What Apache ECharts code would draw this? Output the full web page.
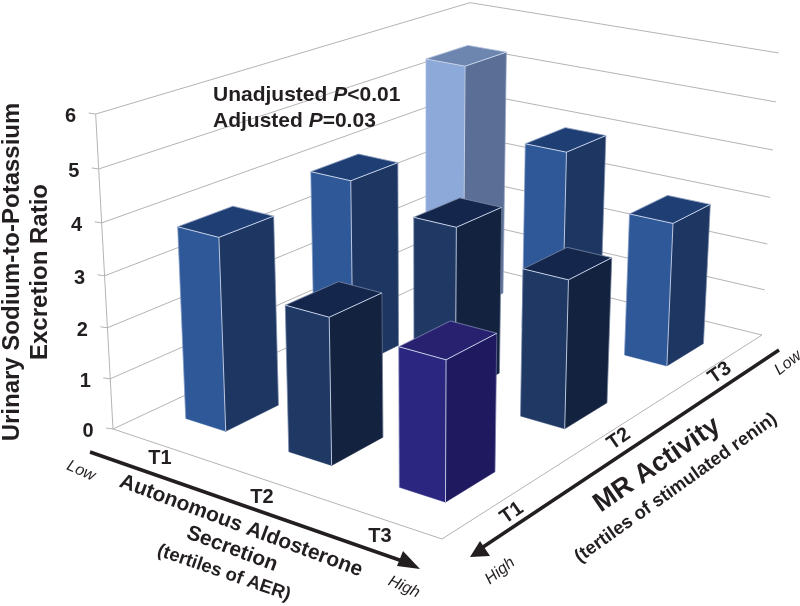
<!DOCTYPE html>
<html>
<head>
<meta charset="utf-8">
<style>html,body{margin:0;padding:0;background:#fff}#c{width:800px;height:606px}</style>
<script src="https://cdn.jsdelivr.net/npm/echarts@6/dist/echarts.min.js"></script>
</head>
<body>
<div id="c"></div>
<script>
// ---- data ----
const aerTertiles = ['T1', 'T2', 'T3'];
const mrTertiles = ['T1', 'T2', 'T3'];
const yTicks = [0, 1, 2, 3, 4, 5, 6];
const ratioMrT1 = [3.77, 2.82, 2.63];
const ratioMrT2 = [3.88, 3.44, 2.94];
const ratioMrT3 = [5.38, 4.0, 3.0];

// ---- styling / layout ----
const FONT = '"Liberation Sans", Arial, sans-serif';
const tones = {
  blue:   {front: '#2f5899', side: '#1e3662', top: '#1f3f74'},
  dark:   {front: '#1f3864', side: '#13233f', top: '#14264c'},
  light:  {front: '#8dA9d9', side: '#5b6f96', top: '#6d86b0'},
  purple: {front: '#2b2680', side: '#1f1a60', top: '#272170'}
};
const toneGrid = [
  ['blue', 'dark', 'purple'],
  ['blue', 'dark', 'dark'],
  ['light', 'blue', 'blue']
];
const floor = [[113, 429], [442, 539], [762, 335], [468, 263]];
const verticalColumn = [-22.4, -321, -0.053];
const HALF = 0.066;

// homography of the unit floor square, plus a vertical column
function buildProjection() {
  const [[x0, y0], [x1, y1], [x2, y2], [x3, y3]] = floor;
  const dx1 = x1 - x2, dx2 = x3 - x2, sx = x0 - x1 + x2 - x3;
  const dy1 = y1 - y2, dy2 = y3 - y2, sy = y0 - y1 + y2 - y3;
  const det = dx1 * dy2 - dx2 * dy1;
  const g = (sx * dy2 - dx2 * sy) / det, h = (dx1 * sy - sx * dy1) / det;
  const a = x1 - x0 + g * x1, b = x3 - x0 + h * x3, c = x0;
  const d = y1 - y0 + g * y1, e = y3 - y0 + h * y3, f = y0;
  const base = (u, v) => [a * u + b * v + c, d * u + e * v + f, g * u + h * v + 1];
  const [vx, vy, vw] = verticalColumn;
  return (u, v, t) => {
    const B = base(u, v);
    const w = B[2] + t * vw;
    return [(B[0] + t * vx) / w, (B[1] + t * vy) / w];
  };
}
const project = buildProjection();

// cells drawn from far to near
const cells = [];
[ratioMrT1, ratioMrT2, ratioMrT3].forEach((row, m) => {
  row.forEach((val, a) => cells.push([a + 0.5, val, m + 0.5, a, m]));
});
cells.sort((p, q) => (p[3] - p[4]) - (q[3] - q[4]));

function toScene(api, xv, yv) {
  const p = api.coord([xv, yv]);
  return [p[0] / api.getWidth(), 1 - p[1] / api.getHeight()];
}

function renderBar(params, api) {
  const xv = api.value(0), val = api.value(1), mv = api.value(2);
  const tone = tones[toneGrid[api.value(4)][api.value(3)]];
  const [u] = toScene(api, xv, 0);
  const [, t] = toScene(api, xv, val);
  const v = mv / mrTertiles.length;
  const u0 = u - HALF, u1 = u + HALF, v0 = v - HALF, v1 = v + HALF;
  const bL = project(u0, v0, 0), bF = project(u1, v0, 0), bR = project(u1, v1, 0);
  const tL = project(u0, v0, t), tF = project(u1, v0, t), tR = project(u1, v1, t), tB = project(u0, v1, t);
  const poly = (pts, fill) => ({type: 'polygon', shape: {points: pts}, style: {fill: fill, stroke: fill, lineWidth: 0.5}});
  const edge = (pts, op) => ({type: 'polyline', shape: {points: pts}, style: {fill: null, stroke: '#c9d5ec', lineWidth: 1, opacity: op}});
  return {
    type: 'group',
    children: [
      poly([bL, bF, tF, tL], tone.front),
      poly([bF, bR, tR, tF], tone.side),
      poly([tL, tF, tR, tB], tone.top),
      edge([tL, tF, tR], 1),
      edge([tF, bF], 0.9),
      edge([tL, tB, tR], 0.45),
      edge([tR, bR], 0.35),
      edge([tL, bL], 0.35)
    ]
  };
}

function renderWall(params, api) {
  const tick = api.value(0);
  const [, t] = toScene(api, 0, tick);
  const L = project(0, 0, t), B = project(0, 1, t), R = project(1, 1, t);
  const lineStyle = {fill: null, stroke: '#b4b4b4', lineWidth: 1};
  const children = [
    {type: 'polyline', shape: {points: [L, B, R]}, style: lineStyle},
    {type: 'line', shape: {x1: L[0] - 7, y1: L[1] - 1, x2: L[0], y2: L[1]}, style: lineStyle},
    {type: 'text', x: L[0] - 25, y: L[1] + 2.5, style: {text: String(tick), font: 'bold 20px ' + FONT, fill: '#231f20', align: 'center', verticalAlign: 'middle'}}
  ];
  if (tick === 0) {
    const F = project(1, 0, 0), T = project(0, 0, 1);
    children.push({type: 'polyline', shape: {points: [L, F, R]}, style: lineStyle});
    children.push({type: 'line', shape: {x1: L[0], y1: L[1], x2: T[0], y2: T[1]}, style: lineStyle});
  }
  return {type: 'group', children: children};
}

const txt = (text, x, y, size, rot, extra) => ({
  type: 'text', x: x, y: y, rotation: rot * Math.PI / 180, z: 20,
  style: Object.assign({text: text, font: 'bold ' + size + 'px ' + FONT, fill: '#231f20', align: 'center', verticalAlign: 'middle'}, extra || {})
});
const italic = (text, x, y, rot) => txt(text, x, y, 16, rot, {font: 'italic 16px ' + FONT});
const aerLabelPos = [[160, 458], [262, 497], [380, 536]];
const mrLabelPos = [[512, 513], [619, 439], [720, 373]];

const graphics = [
  txt('Urinary Sodium-to-Potassium', 12, 272, 24, 90),
  txt('Excretion Ratio', 40, 272, 24, 90),
  {type: 'text', x: 213, y: 108, z: 20, style: {
    text: 'Unadjusted {i|P}<0.01\nAdjusted {i|P}=0.03', font: 'bold 21px ' + FONT, fill: '#231f20',
    align: 'left', verticalAlign: 'middle', lineHeight: 26,
    rich: {i: {font: 'italic bold 21px ' + FONT, fill: '#231f20'}}
  }},
  {type: 'line', z: 15, shape: {x1: 90, y1: 452, x2: 408, y2: 563}, style: {stroke: '#231f20', lineWidth: 3.5}},
  {type: 'polygon', z: 15, shape: {points: [[420, 569], [397, 566], [403, 551]]}, style: {fill: '#231f20'}},
  {type: 'line', z: 15, shape: {x1: 779, y1: 350, x2: 483, y2: 547}, style: {stroke: '#231f20', lineWidth: 3.5}},
  {type: 'polygon', z: 15, shape: {points: [[470, 557], [480, 541], [490, 556]]}, style: {fill: '#231f20'}},
  italic('Low', 81, 471, -24),
  italic('High', 404, 587, -24),
  italic('Low', 788, 363, 38),
  italic('High', 500, 571, 38),
  txt('Autonomous Aldosterone', 241, 526, 21, -20.5),
  txt('Secretion', 232, 549, 21, -20.5),
  txt('(tertiles of AER)', 224, 573, 18.5, -19),
  txt('MR Activity', 657, 465, 27, 34.5),
  txt('(tertiles of stimulated renin)', 676, 488, 18.5, 35.5)
];
aerTertiles.forEach((s, i) => graphics.push(txt(s, aerLabelPos[i][0], aerLabelPos[i][1], 20, 0)));
mrTertiles.forEach((s, i) => graphics.push(txt(s, mrLabelPos[i][0], mrLabelPos[i][1], 20, 35)));

const chart = echarts.init(document.getElementById('c'), null, {renderer: 'canvas'});
chart.setOption({
  animation: false,
  backgroundColor: '#fff',
  grid: {left: 0, top: 0, width: '100%', height: '100%'},
  xAxis: {type: 'value', min: 0, max: aerTertiles.length, show: false},
  yAxis: {type: 'value', min: 0, max: 6, show: false},
  graphic: graphics,
  series: [
    {type: 'custom', name: 'walls', coordinateSystem: 'cartesian2d', z: 1, clip: false, silent: true,
     renderItem: renderWall, data: yTicks.map(t => [t]), encode: {x: -1, y: 0}},
    {type: 'custom', name: 'ratio', coordinateSystem: 'cartesian2d', z: 5, clip: false, silent: true,
     renderItem: renderBar, data: cells, encode: {x: 0, y: 1}}
  ]
});
</script>
</body>
</html>
